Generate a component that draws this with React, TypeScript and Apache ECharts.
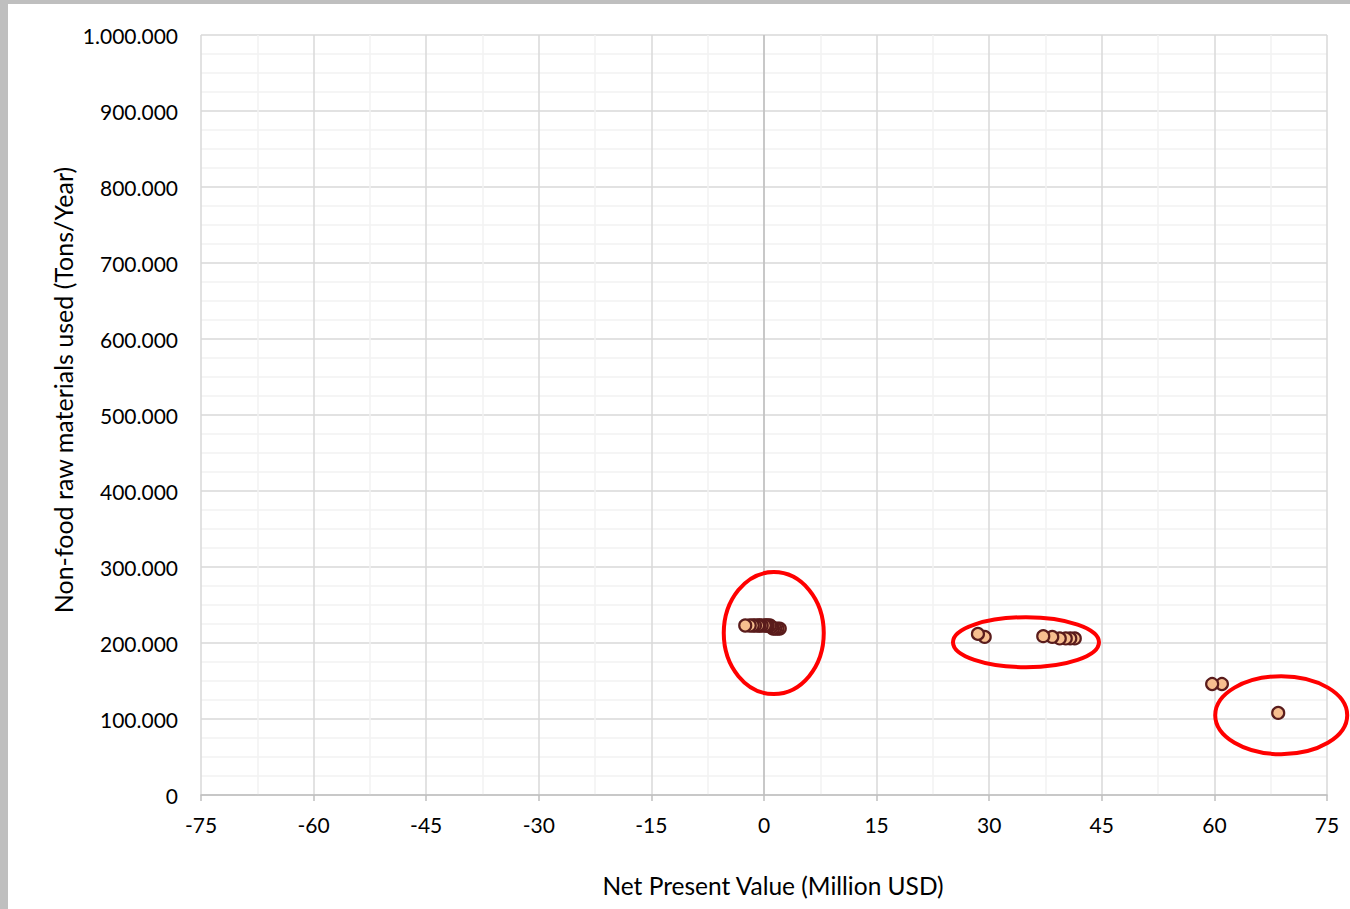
import React, { useEffect, useRef } from "react";
import * as echarts from "echarts";

// Data (x: NPV in million USD, y: tons/year)
const cluster1X = [2.1, 1.8, 1.5, 1.2, 1.0, 0.8, 0.5, 0.3, 0.1, -0.3, -0.6, -0.8, -1.2, -1.5, -1.9, -2.5];
const cluster1Y = [219000, 219000, 219000, 219000, 221000, 223000, 223000, 223000, 223000, 223000, 223000, 223000, 223000, 223000, 223000, 223000];
const cluster2X = [41.4, 40.8, 40.2, 39.4, 38.4, 37.2, 29.4, 28.5];
const cluster2Y = [206000, 206000, 206000, 206000, 208000, 209000, 208000, 212000];
const cluster3X = [68.5, 61.0, 59.7];
const cluster3Y = [108000, 146000, 146000];

// Annotation ellipses: centre in data units, radii in pixels
const ellipseCX = [1.3, 34.9, 68.9];
const ellipseCY = [213000, 201000, 105000];
const ellipseRX = [50, 73, 66];
const ellipseRY = [61, 25, 39];

const xTitle = "Net Present Value (Million USD)";
const yTitle = "Non-food raw materials used (Tons/Year)";

const FONT = "Lato";

function fmtY(v: number): string {
  return String(Math.round(v)).replace(/\B(?=(\d{3})+(?!\d))/g, ".");
}

export default function App() {
  const ref = useRef<HTMLDivElement>(null);
  useEffect(() => {
    document.body.style.margin = "0";
    const chart = echarts.init(ref.current!, null, { renderer: "svg" });
    const points: number[][] = [];
    [
      [cluster1X, cluster1Y],
      [cluster2X, cluster2Y],
      [cluster3X, cluster3Y],
    ].forEach(([xs, ys]) => xs.forEach((x, i) => points.push([x, ys[i]])));

    chart.setOption({
      animation: false,
      backgroundColor: "#ffffff",
      grid: { left: 201, right: 23, top: 35, bottom: 114, containLabel: false },
      xAxis: {
        type: "value",
        min: -75,
        max: 75,
        interval: 15,
        axisLine: { show: true, onZero: false, lineStyle: { color: "#BFBFBF", width: 1.5 } },
        axisTick: { show: true, length: 6, lineStyle: { color: "#BFBFBF", width: 1.5 } },
        axisLabel: { color: "#000", fontFamily: FONT, fontSize: 21, margin: 19 },
        splitLine: { show: true, lineStyle: { color: "#D9D9D9", width: 1.5 } },
        minorTick: { show: false, splitNumber: 2 },
        minorSplitLine: { show: true, lineStyle: { color: "#F2F2F2", width: 1.5 } },
      },
      yAxis: {
        type: "value",
        min: 0,
        max: 1000000,
        interval: 100000,
        axisLine: { show: false },
        axisTick: { show: false },
        axisLabel: { color: "#000", fontFamily: FONT, fontSize: 21, margin: 23, formatter: fmtY },
        splitLine: { show: true, lineStyle: { color: "#D9D9D9", width: 1.5 } },
        minorTick: { show: false, splitNumber: 4 },
        minorSplitLine: { show: true, lineStyle: { color: "#F2F2F2", width: 1.5 } },
      },
      series: [
        {
          type: "scatter",
          data: points,
          symbol: "circle",
          symbolSize: 12,
          itemStyle: { color: "#F7BE8F", borderColor: "#5A1C1C", borderWidth: 2.2, opacity: 1 },
          markLine: {
            silent: true,
            symbol: ["none", "none"],
            label: { show: false },
            lineStyle: { color: "#BFBFBF", type: "solid", width: 1.5 },
            data: [{ xAxis: 0 }],
            z: 1,
          },
          z: 5,
        },
      ],
    });

    const ellipses = ellipseCX.map((cx, i) => {
      const p = chart.convertToPixel({ gridIndex: 0 }, [cx, ellipseCY[i]]) as number[];
      return {
        type: "ellipse",
        shape: { cx: p[0], cy: p[1], rx: ellipseRX[i], ry: ellipseRY[i] },
        style: { fill: "none", stroke: "#FF0000", lineWidth: 4 },
        z: 100,
        silent: true,
      };
    });

    chart.setOption({
      graphic: [
        { type: "rect", shape: { x: 0, y: 0, width: 1350, height: 4 }, style: { fill: "#BFBFBF" }, z: 200 },
        { type: "rect", shape: { x: 0, y: 0, width: 8, height: 909 }, style: { fill: "#BFBFBF" }, z: 200 },
        ...ellipses,
        {
          type: "text",
          x: 773,
          y: 885,
          style: {
            text: xTitle,
            fontFamily: FONT,
            fontSize: 24.5,
            fill: "#000",
            textAlign: "center",
            textVerticalAlign: "middle",
          },
          z: 100,
        },
        {
          type: "text",
          x: 63,
          y: 390,
          rotation: Math.PI / 2,
          style: {
            text: yTitle,
            fontFamily: FONT,
            fontSize: 25,
            fill: "#000",
            textAlign: "center",
            textVerticalAlign: "middle",
          },
          z: 100,
        },
      ],
    });

    return () => chart.dispose();
  }, []);
  return <div ref={ref} style={{ width: 1350, height: 909 }} />;
}
